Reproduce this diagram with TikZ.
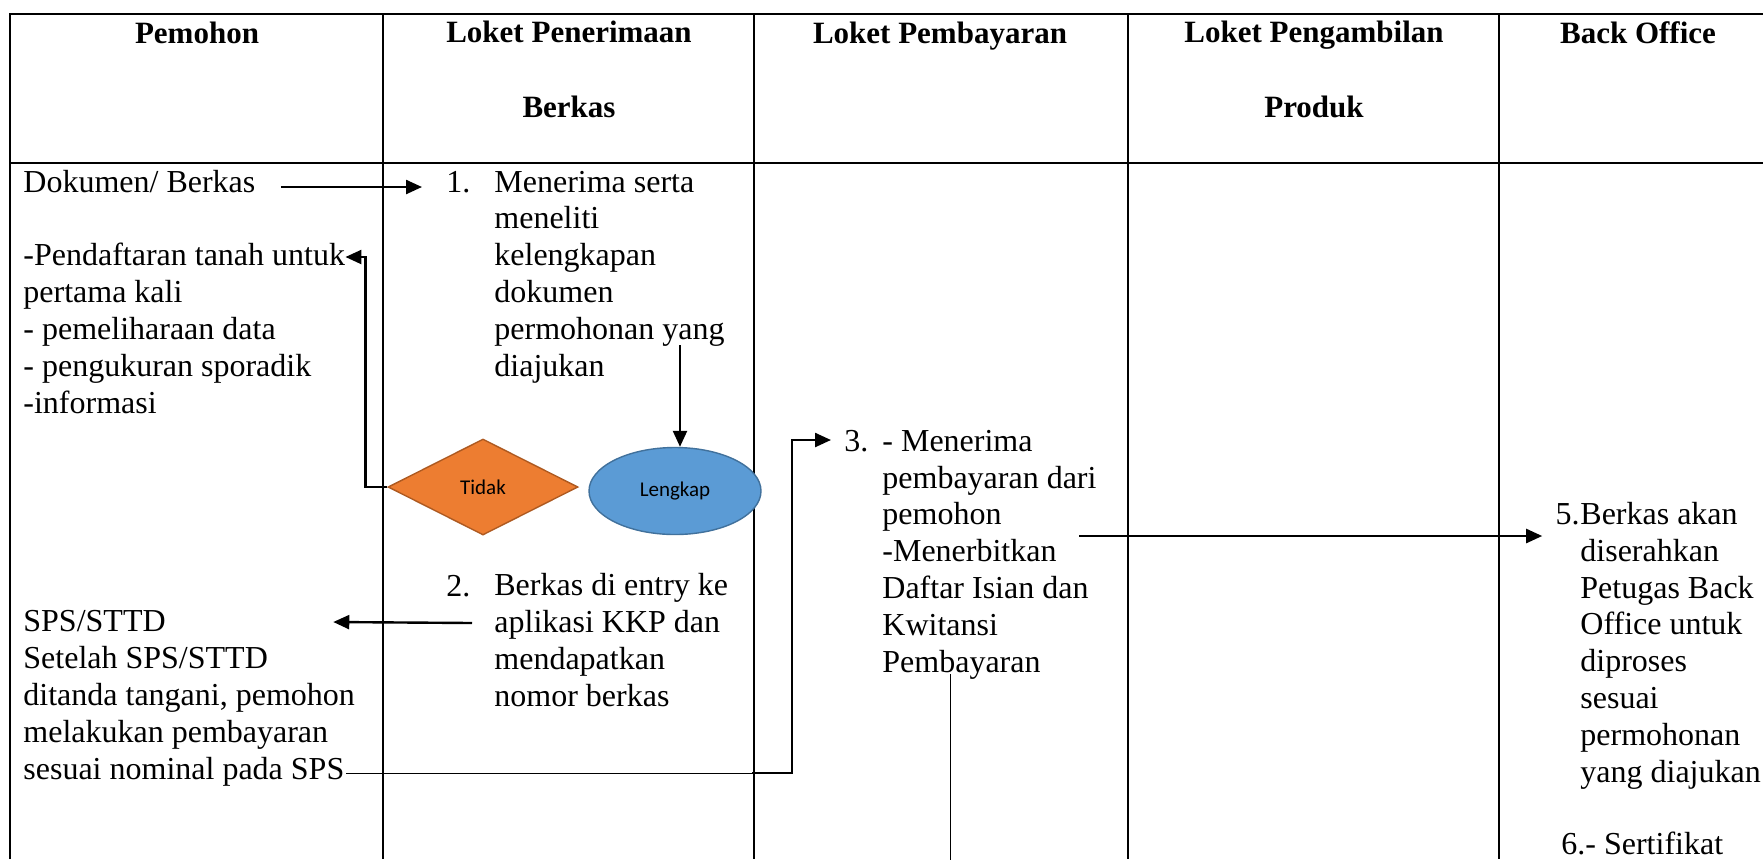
\documentclass[tikz,border=0pt]{standalone}
\usepackage{xcolor}
\usepackage{fontspec}
\setmainfont{Liberation Serif}
\newfontfamily\calibri{Carlito}
\usepackage{tikz}
\usetikzlibrary{positioning,shapes.geometric,arrows.meta}

\definecolor{tidakfill}{HTML}{ED7D31}
\definecolor{tidakline}{HTML}{AE5A21}
\definecolor{lengkapfill}{HTML}{5B9BD5}
\definecolor{lengkapline}{HTML}{41719C}

\begin{document}
\begin{tikzpicture}[x=0.5pt,y=-0.5pt,
    txt/.style={font=\fontsize{16}{18.4}\selectfont,align=left,inner sep=0pt,anchor=base west},
    head/.style={font=\bfseries\fontsize{15.5}{18.4}\selectfont,align=center,inner sep=0pt,anchor=base},
    arr/.style={line width=1.2pt,-{Triangle[length=8pt,width=7pt]}},
    thinline/.style={line width=0.5pt},
    shapetext/.style={font=\calibri\fontsize{10.5}{12}\selectfont,inner sep=0pt}]
            \def\frame{(10,859) -- (10,14) -- (1763,14)}
            \def\headline{(10,163) -- (1763,163)}
            \useasboundingbox (0,0) rectangle (1763,859);
            \fill[white] (0,0) rectangle (1763,859);
            \draw[line width=1.1pt] \frame;
            \draw[line width=1.1pt] \headline;
            \foreach \x in {383,754,1128,1499}
                \draw[line width=0.7pt] (\x,14) -- (\x,859);
            % lane heads (base = last line)
            \node[head] (hpemohon) at (197,43) {Pemohon};
            \node[head] (hterima) at (569,117) {Loket Penerimaan\\[19pt]Berkas};
            \node[head] (hbayar) at (940,43) {Loket Pembayaran};
            \node[head] (hambil) at (1314,117) {Loket Pengambilan\\[19pt]Produk};
            \node[head] (hback) at (1638,43) {Back Office};
            % pemohon
            \node[txt] (dok) at (23,192) {Dokumen/ Berkas};
            \node[txt] (daftar) at (23,413) {-Pendaftaran tanah untuk\\pertama kali\\- pemeliharaan data\\- pengukuran sporadik\\-informasi};
            \node[txt] (sps) at (23,779) {SPS/STTD\\Setelah SPS/STTD\\ditanda tangani, pemohon\\melakukan pembayaran\\sesuai nominal pada SPS};
            % loket penerimaan
            \node[txt] (no1) at (446,192) {1.};
            \node[txt] (blk1) at (494,376) {Menerima serta\\meneliti\\kelengkapan\\dokumen\\permohonan yang\\diajukan};
            \node[shapetext,diamond,draw=tidakline,fill=tidakfill,line width=0.7pt,
                  minimum width=95pt,minimum height=48pt] (tidak) at (483,487) {Tidak};
            \node[shapetext,ellipse,draw=lengkapline,fill=lengkapfill,line width=0.7pt,
                  minimum width=86pt,minimum height=43.5pt] (lengkap) at (675,491) {Lengkap};
            \node[txt] (no2) at (446,596) {2.};
            \node[txt] (blk2) at (494,706) {Berkas di entry ke\\aplikasi KKP dan\\mendapatkan\\nomor berkas};
            % loket pembayaran
            \node[txt] (no3) at (844,451) {3.};
            \node[txt] (blk3) at (882,672) {- Menerima\\pembayaran dari\\pemohon\\-Menerbitkan\\Daftar Isian dan\\Kwitansi\\Pembayaran};
            % back office
            \node[txt,anchor=base east] (no5) at (1580,524) {5.};
            \node[txt] (blk5) at (1580,782) {Berkas akan\\diserahkan\\Petugas Back\\Office untuk\\diproses\\sesuai\\permohonan\\yang diajukan};
            \node[txt] (no6) at (1561,854) {6.- Sertifikat};
            % connectors
            \draw[arr] ([shift={(25,-5)}]dok.base east) -- ([shift={(-24,-5)}]no1.base west);
            \draw[arr] ([shift={(186,-31)}]blk1.base west) coordinate (d1) -- (d1 |- lengkap.north);
            \draw[arr] (tidak.west) -- ++(-22,0) |- ([shift={(0,-156)}]daftar.base east);
            \draw[arr] ([shift={(-22,-83)}]blk2.base west) -- ([shift={(-22,-157)}]sps.base east);
            \draw[thinline] ([shift={(-9,-6)}]sps.base east) -- ++(406,0) coordinate (kink);
            \draw[arr] (kink) -- ++(40,0) |- ([shift={(-13,-11)}]no3.base west);
            \draw[arr] ([shift={(197,-136)}]blk3.base west) -- ([shift={(-13,12)}]no5.base west);
            \draw[thinline] ([shift={(68,2)}]blk3.base west) -- ++(0,186);
        \end{tikzpicture}
\end{document}
